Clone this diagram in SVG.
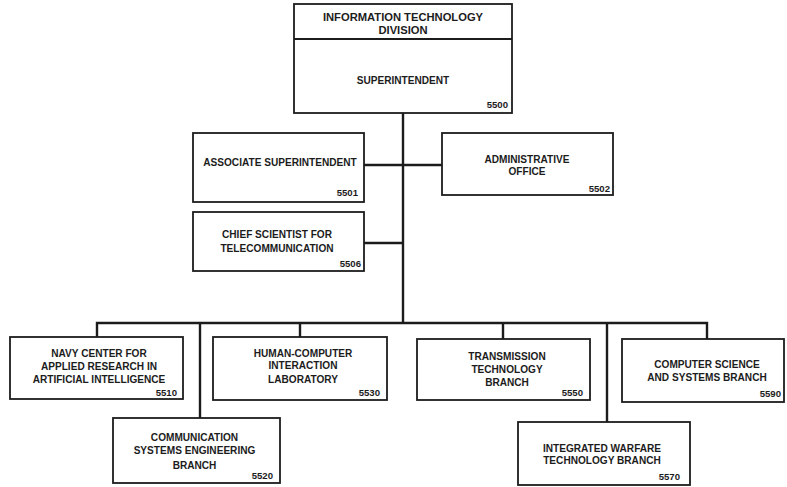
<svg xmlns="http://www.w3.org/2000/svg" width="787" height="487" viewBox="0 0 787 487">
<style>
.box{fill:#fff;stroke:#1c1c1c;stroke-width:1.8}
.ln{stroke:#1c1c1c;stroke-width:2.4;fill:none}
text{font-family:"Liberation Sans",Arial,sans-serif;font-weight:bold;fill:#1c1c1c;font-size:10.1px}
.c{text-anchor:middle}
.n{text-anchor:end;font-size:9.6px}
.t{font-size:11.2px}
</style>
<rect width="787" height="487" fill="#fff"/>
<g id="connectors">
<path class="ln" d="M403,113 V323"/>
<path class="ln" d="M364,165 H442"/>
<path class="ln" d="M364,243 H403"/>
<path class="ln" d="M97,337 V323 H707 V339"/>
<path class="ln" d="M200,323 V418"/>
<path class="ln" d="M300,323 V337"/>
<path class="ln" d="M503,323 V339"/>
<path class="ln" d="M607,323 V422"/>
</g>
<g id="n5500">
<rect class="box" x="294" y="4" width="218" height="109"/>
<path class="ln" d="M294,39 H512" style="stroke-width:1.8"/>
<text class="c t" x="403" y="21">INFORMATION TECHNOLOGY</text>
<text class="c t" x="403" y="34">DIVISION</text>
<text class="c" x="403" y="83.5">SUPERINTENDENT</text>
<text class="n" x="508" y="108">5500</text>
</g>
<g id="n5501">
<rect class="box" x="193" y="133" width="171" height="69"/>
<text class="c" x="280" y="166">ASSOCIATE SUPERINTENDENT</text>
<text class="n" x="358" y="196">5501</text>
</g>
<g id="n5502">
<rect class="box" x="442" y="133" width="171" height="62"/>
<text class="c" x="527" y="162.5">ADMINISTRATIVE</text>
<text class="c" x="527" y="175">OFFICE</text>
<text class="n" x="610" y="191.5">5502</text>
</g>
<g id="n5506">
<rect class="box" x="193" y="212" width="171" height="59"/>
<text class="c" x="277" y="238">CHIEF SCIENTIST FOR</text>
<text class="c" x="277" y="252">TELECOMMUNICATION</text>
<text class="n" x="361" y="266.5">5506</text>
</g>
<g id="n5510">
<rect class="box" x="10" y="337" width="173" height="62"/>
<text class="c" x="99" y="357">NAVY CENTER FOR</text>
<text class="c" x="99" y="369.5">APPLIED RESEARCH IN</text>
<text class="c" x="99" y="382.5">ARTIFICIAL INTELLIGENCE</text>
<text class="n" x="177" y="396">5510</text>
</g>
<g id="n5520">
<rect class="box" x="113" y="418" width="167" height="65"/>
<text class="c" x="194.5" y="441">COMMUNICATION</text>
<text class="c" x="194.5" y="454">SYSTEMS ENGINEERING</text>
<text class="c" x="194.5" y="468.5">BRANCH</text>
<text class="n" x="273" y="479">5520</text>
</g>
<g id="n5530">
<rect class="box" x="213" y="337" width="174" height="63"/>
<text class="c" x="303" y="356.5">HUMAN-COMPUTER</text>
<text class="c" x="303" y="369">INTERACTION</text>
<text class="c" x="303" y="383">LABORATORY</text>
<text class="n" x="380" y="396">5530</text>
</g>
<g id="n5550">
<rect class="box" x="417" y="339" width="173" height="61"/>
<text class="c" x="507" y="360">TRANSMISSION</text>
<text class="c" x="507" y="373">TECHNOLOGY</text>
<text class="c" x="507" y="386">BRANCH</text>
<text class="n" x="583" y="396">5550</text>
</g>
<g id="n5570">
<rect class="box" x="518" y="422" width="172" height="63"/>
<text class="c" x="602" y="452">INTEGRATED WARFARE</text>
<text class="c" x="602" y="464">TECHNOLOGY BRANCH</text>
<text class="n" x="680" y="480">5570</text>
</g>
<g id="n5590">
<rect class="box" x="622" y="339" width="162" height="63"/>
<text class="c" x="707" y="368">COMPUTER SCIENCE</text>
<text class="c" x="707" y="380.5">AND SYSTEMS BRANCH</text>
<text class="n" x="781" y="397">5590</text>
</g>
</svg>
